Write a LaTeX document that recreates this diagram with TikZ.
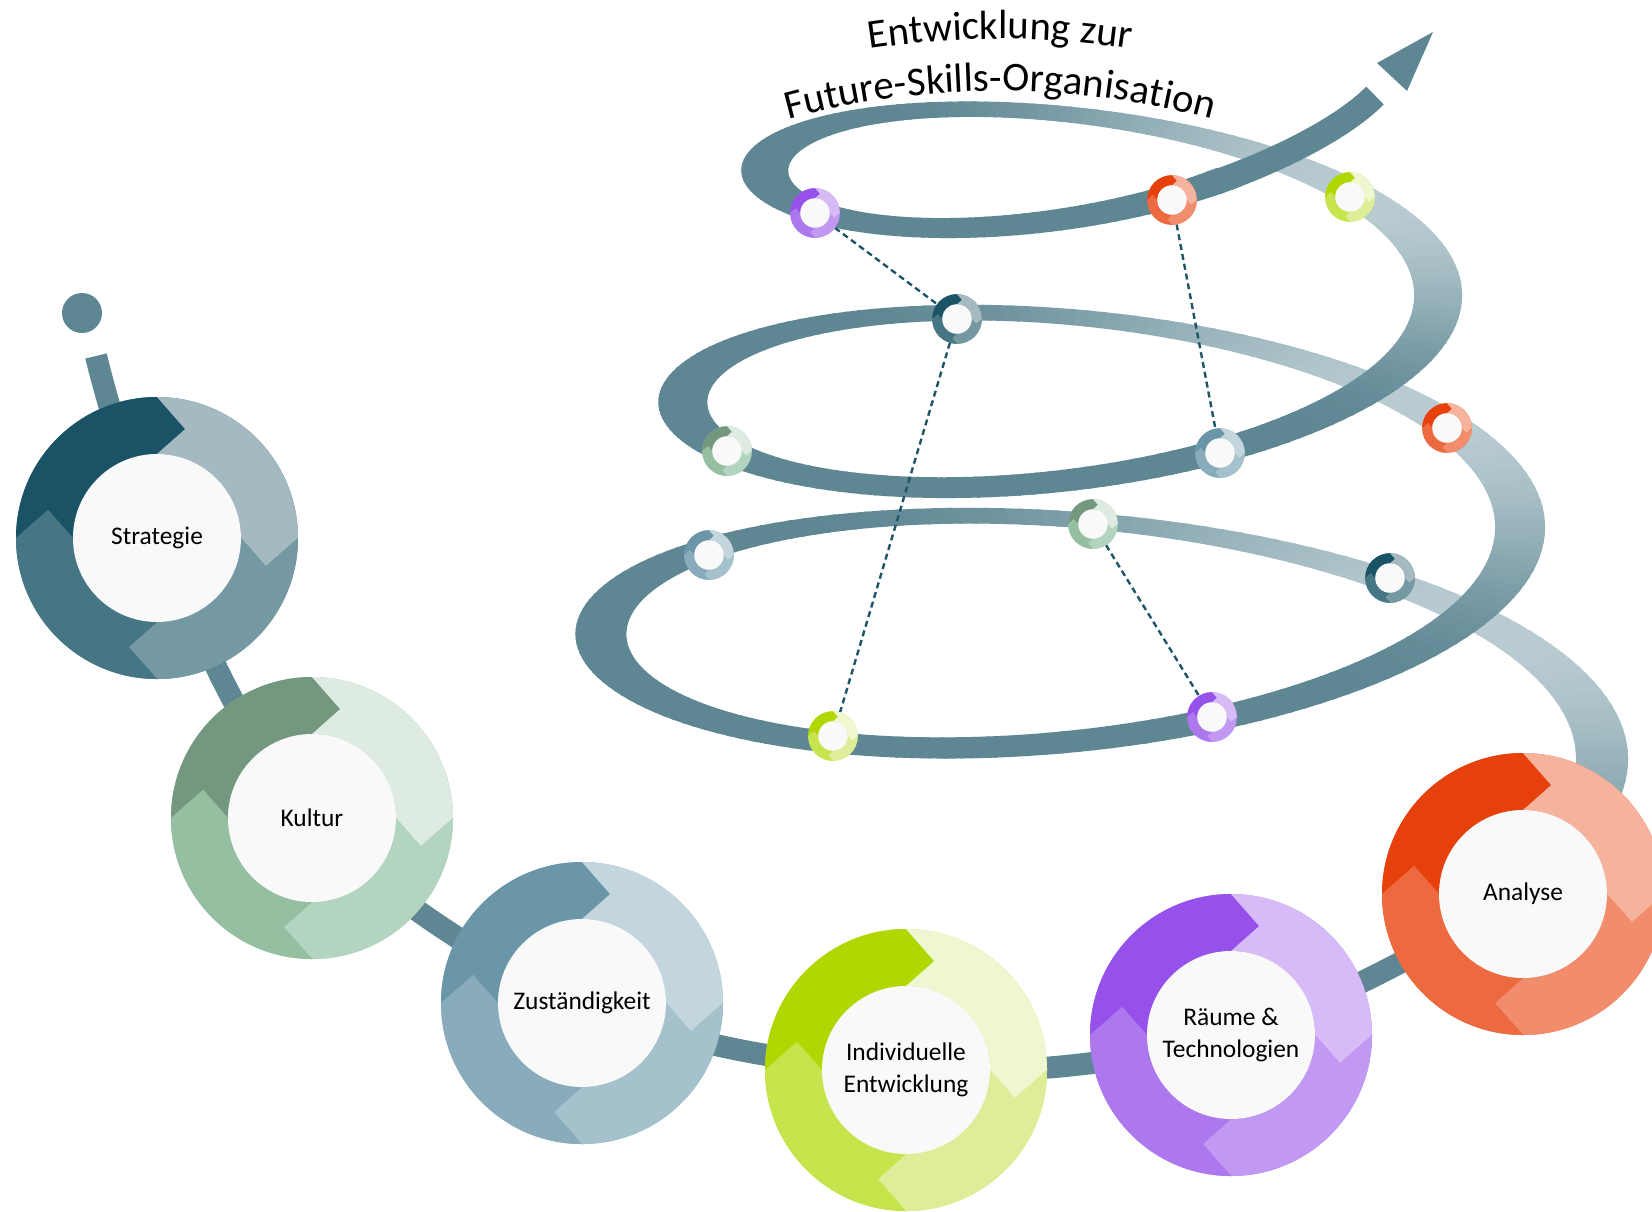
\documentclass[tikz,border=0pt]{standalone}
\usepackage{fontspec}
\setmainfont{Carlito}
\usetikzlibrary{decorations.text}
\definecolor{bandD}{HTML}{5E8793}
\definecolor{bandL}{HTML}{BACCD2}
\definecolor{innerc}{HTML}{F9F9F9}
\definecolor{dashc}{HTML}{1F5566}
\definecolor{sA}{HTML}{1B5366}\definecolor{sB}{HTML}{A4BAC0}\definecolor{sC}{HTML}{7499A2}\definecolor{sD}{HTML}{467584}
\definecolor{kA}{HTML}{74977F}\definecolor{kB}{HTML}{DEEBE2}\definecolor{kC}{HTML}{B3D4BF}\definecolor{kD}{HTML}{94BFA0}
\definecolor{zA}{HTML}{6A96A8}\definecolor{zB}{HTML}{C3D6DE}\definecolor{zC}{HTML}{A5C1CC}\definecolor{zD}{HTML}{88ACBB}
\definecolor{iA}{HTML}{B0D701}\definecolor{iB}{HTML}{EEF7CF}\definecolor{iC}{HTML}{DEEE98}\definecolor{iD}{HTML}{C6E44B}
\definecolor{rA}{HTML}{9651EA}\definecolor{rB}{HTML}{D6BBF7}\definecolor{rC}{HTML}{C198F2}\definecolor{rD}{HTML}{AD78EE}
\definecolor{aA}{HTML}{E6410C}\definecolor{aB}{HTML}{F5B29D}\definecolor{aC}{HTML}{F18D6D}\definecolor{aD}{HTML}{ED6940}
\newcommand\titlesize{\fontsize{20.4}{25}\selectfont}
\tikzset{
  pics/cyc/.style n args={4}{code={
    \fill[#4] (0,0) circle[radius=141];
    \fill[#1] (180:141) arc[start angle=180,end angle=90,radius=141] -- (75.5:112.5) -- (90:84) arc[start angle=90,end angle=180,radius=84] -- (165.5:112.5) -- cycle;
    \fill[#2] (90:141) arc[start angle=90,end angle=0,radius=141] -- (-14.5:112.5) -- (0:84) arc[start angle=0,end angle=90,radius=84] -- (75.5:112.5) -- cycle;
    \fill[#3] (0:141) arc[start angle=0,end angle=-90,radius=141] -- (-104.5:112.5) -- (-90:84) arc[start angle=-90,end angle=0,radius=84] -- (-14.5:112.5) -- cycle;
    \fill[#4] (-90:141) arc[start angle=-90,end angle=-180,radius=141] -- (-194.5:112.5) -- (-180:84) arc[start angle=-180,end angle=-90,radius=84] -- (-104.5:112.5) -- cycle;
    \fill[innerc] (0,0) circle[radius=84];
  }},
  lbl/.style={font=\fontsize{12.7}{16.3}\selectfont, align=center, text=black, inner sep=0pt},
  smallnode/.style={circle, minimum size=24.5pt, inner sep=0pt},
  chainline/.style={draw=bandD, line width=11pt},
  dashline/.style={draw=dashc, line width=1.2pt, dash pattern=on 3pt off 2pt},
  declare function={
    hA(\u)=480-0.227778*(\u-180)+21*cos(\u);
    hB(\u)=170-0.081944*(\u-180);
    hY(\u)=638-0.644444*(\u-180);
    hD(\u)=25.5-0.0027778*(\u-180);
    hE(\u)=9.5-1.5*sin(\u);
    oX(\u)=1060+(hA(\u)+hD(\u))*cos(\u);
    oY(\u)=-hY(\u)+(hB(\u)+hE(\u))*sin(\u);
    iX(\u)=1060+(hA(\u)-hD(\u))*cos(\u);
    iY(\u)=-hY(\u)+(hB(\u)-hE(\u))*sin(\u);
  }
}
\newcommand\bandquad[1]{%
  \pgfmathsetmacro\ta{#1}%
  \pgfmathsetmacro\tb{#1+2.5}%
  \pgfmathtruncatemacro\pct{100*(max(0,cos(#1+1.25-35)))^2}%
  \fill[bandL!\pct!bandD] ({oX(\ta)},{oY(\ta)}) -- ({oX(\tb)},{oY(\tb)}) -- ({iX(\tb)},{iY(\tb)}) -- ({iX(\ta)},{iY(\ta)}) -- cycle;}
\begin{document}
\begin{tikzpicture}[x=0.5pt,y=0.5pt]
\fill[white] (0,0) rectangle (1652,-1211);
\useasboundingbox (0,0) rectangle (1652,-1211);

% centres of the big circles
\coordinate (Sc) at (157,-538);
\coordinate (Kc) at (312,-818);
\coordinate (Zc) at (582,-1003);
\coordinate (Ic) at (906,-1070);
\coordinate (Rc) at (1231,-1035);
\coordinate (Ac) at (1523,-894);
\coordinate (st) at (96,-356);
\coordinate (Aext) at (1570,-840);

% chain line and start dot
\node[circle, fill=bandD, minimum size=20pt, inner sep=0pt] (dot) at (82,-313) {};
\draw[chainline] plot[smooth, tension=0.6] coordinates {(st) (Sc) (Kc) (Zc) (Ic) (Rc) (Ac) (Aext)};

% spiral: back parts
\foreach \t in {0,2,...,178} {\bandquad{\t}}
\foreach \t in {360,362,...,538} {\bandquad{\t}}
\foreach \t in {720,722,...,898} {\bandquad{\t}}
% spiral: front parts
\foreach \t in {-15,-13,...,-1} {\bandquad{\t}}
\foreach \t in {180,182,...,358} {\bandquad{\t}}
\foreach \t in {540,542,...,718} {\bandquad{\t}}
\foreach \t in {900,902,...,1022} {\bandquad{\t}}
\coordinate (bandA) at ({1060+hA(1020)*cos(1020)},{-hY(1020)+hB(1020)*sin(1020)});
\coordinate (bandB) at (1375,-95.5);
\draw[bandD, line width=12.5pt] (bandA) .. controls +(57,19) and (1340,-131) .. (bandB);
\fill[bandD] (1377,-63) -- (1433,-32) -- (1407,-91) -- cycle;

% small circles (positions)
\node[smallnode] (s1) at (815,-213) {};
\node[smallnode] (s2) at (1172,-200) {};
\node[smallnode] (s3) at (1350,-197) {};
\node[smallnode] (s4) at (957,-319) {};
\node[smallnode] (s5) at (1447,-428) {};
\node[smallnode] (s6) at (727,-451) {};
\node[smallnode] (s7) at (1220,-453) {};
\node[smallnode] (s8) at (709,-555) {};
\node[smallnode] (s9) at (1093,-524) {};
\node[smallnode] (s10) at (1390,-578) {};
\node[smallnode] (s11) at (833,-736) {};
\node[smallnode] (s12) at (1212,-717) {};

% dashed links
\draw[dashline] (s1) -- (s4);
\draw[dashline] (s4) -- (s11);
\draw[dashline] (s2) -- (s7);
\draw[dashline] (s9) -- (s12);

% small circle rings
\pic[scale=0.176] at (s1) {cyc={rA}{rB}{rC}{rD}};
\pic[scale=0.176] at (s2) {cyc={aA}{aB}{aC}{aD}};
\pic[scale=0.176] at (s3) {cyc={iA}{iB}{iC}{iD}};
\pic[scale=0.176] at (s4) {cyc={sA}{sB}{sC}{sD}};
\pic[scale=0.176] at (s5) {cyc={aA}{aB}{aC}{aD}};
\pic[scale=0.176] at (s6) {cyc={kA}{kB}{kC}{kD}};
\pic[scale=0.176] at (s7) {cyc={zA}{zB}{zC}{zD}};
\pic[scale=0.176] at (s8) {cyc={zA}{zB}{zC}{zD}};
\pic[scale=0.176] at (s9) {cyc={kA}{kB}{kC}{kD}};
\pic[scale=0.176] at (s10) {cyc={sA}{sB}{sC}{sD}};
\pic[scale=0.176] at (s11) {cyc={iA}{iB}{iC}{iD}};
\pic[scale=0.176] at (s12) {cyc={rA}{rB}{rC}{rD}};

% big circles
\pic at (Sc) {cyc={sA}{sB}{sC}{sD}};
\pic at (Kc) {cyc={kA}{kB}{kC}{kD}};
\pic at (Zc) {cyc={zA}{zB}{zC}{zD}};
\pic at (Ic) {cyc={iA}{iB}{iC}{iD}};
\pic at (Rc) {cyc={rA}{rB}{rC}{rD}};
\pic at (Ac) {cyc={aA}{aB}{aC}{aD}};
\node[lbl] (S) at (Sc) {Strategie};
\node[lbl] (K) at (Kc) {Kultur};
\node[lbl] (Z) at (Zc) {Zuständigkeit};
\node[lbl] (I) at (Ic) {Individuelle\\Entwicklung};
\node[lbl] (R) at (Rc) {Räume \&\\Technologien};
\node[lbl] (A) at (Ac) {Analyse};

% title on arcs
\coordinate (tc) at (1000,-900);
\path[decorate, decoration={text along path, text align=center, text={|\titlesize|Entwicklung zur}}]
  (tc) ++(110:861) arc[start angle=110, end angle=70, radius=861];
\path[decorate, decoration={text along path, text align=center, text={|\titlesize|Future-Skills-Organisation}}]
  (tc) ++(110:809) arc[start angle=110, end angle=70, radius=809];
\end{tikzpicture}
\end{document}
